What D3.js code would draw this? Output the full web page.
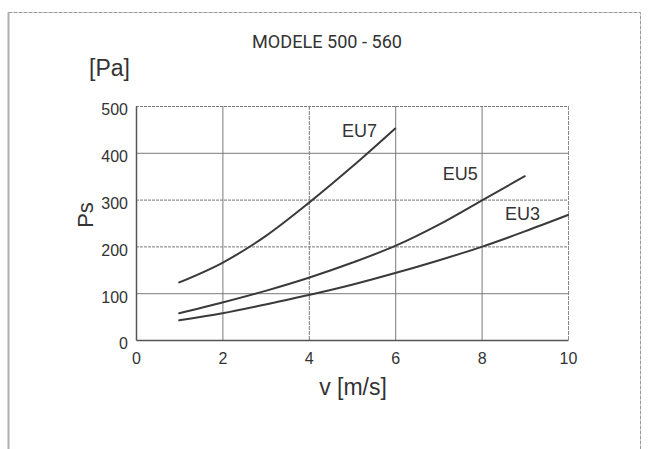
<!DOCTYPE html>
<html>
<head>
<meta charset="utf-8">
<script src="https://cdn.jsdelivr.net/npm/d3@7"></script>
<style>
  body { margin: 0; background: #fff; }
  text { font-family: "Liberation Sans", Arial, sans-serif; fill: #333; }
</style>
</head>
<body>
<svg id="chart" width="650" height="449"></svg>
<script>
// Static pressure Ps [Pa] against air velocity v [m/s] for three filter classes
const seriesNames = ["EU7", "EU5", "EU3"];
const eu7Speed = [1, 2, 3, 4, 5, 6];
const eu7Pressure = [123, 165, 222, 293, 370, 452];
const eu5Speed = [1, 2, 3, 4, 5, 6, 7, 8, 9];
const eu5Pressure = [57, 80, 105, 133, 165, 201, 246, 298, 350];
const eu3Speed = [1, 2, 3, 4, 5, 6, 7, 8, 9, 10];
const eu3Pressure = [42, 57, 76, 96, 118, 143, 170, 199, 232, 267];
const xTickValues = [0, 2, 4, 6, 8, 10];
const yTickValues = [0, 100, 200, 300, 400, 500];
const titleText = "MODELE 500 - 560";

const svg = d3.select("#chart");

// page frame
svg.append("rect")
  .attr("x", 8.5).attr("y", 12.5)
  .attr("width", 632).attr("height", 450)
  .attr("fill", "none").attr("stroke", "#9a9a9a").attr("stroke-width", 1)
  .attr("stroke-dasharray", "4,1");
svg.append("line")
  .attr("x1", 8.5).attr("x2", 8.5).attr("y1", 12.5).attr("y2", 449)
  .attr("stroke", "#b0b0b0").attr("stroke-width", 2);

const x = d3.scaleLinear().domain([0, 10]).range([136, 568]);
const y = d3.scaleLinear().domain([0, 500]).range([340, 106]);

// grid
const grid = svg.append("g");
grid.selectAll("line.v")
  .data(xTickValues.filter(d => d > 0))
  .join("line")
  .attr("x1", d => x(d) + 0.5).attr("x2", d => x(d) + 0.5)
  .attr("y1", y(500)).attr("y2", y(0))
  .attr("stroke", d => d === 10 ? "#8a8a8a" : "#7a7a7a")
  .attr("stroke-width", 1)
  .attr("stroke-dasharray", d => (d === 4 || d === 10) ? "4,1" : null);
grid.selectAll("line.h")
  .data(yTickValues.filter(d => d > 0))
  .join("line")
  .attr("x1", x(0)).attr("x2", x(10))
  .attr("y1", d => y(d) + 0.5).attr("y2", d => y(d) + 0.5)
  .attr("stroke", "#7a7a7a")
  .attr("stroke-width", 1)
  .attr("stroke-dasharray", d => (d === 200 || d === 300 || d === 500) ? "3,1" : null);

// axes
const xAxis = svg.append("g")
  .attr("transform", `translate(0,${y(0)})`)
  .call(d3.axisBottom(x).tickValues(xTickValues).tickSize(0).tickPadding(13));
xAxis.select(".domain").attr("stroke", "#555").attr("stroke-width", 1.5);
xAxis.selectAll("text")
  .style("font-family", "Liberation Sans, Arial, sans-serif")
  .style("font-size", "16px").attr("fill", "#444");

const yAxis = svg.append("g")
  .attr("transform", `translate(${x(0)},0)`)
  .call(d3.axisLeft(y).tickValues(yTickValues).tickSize(0).tickPadding(8));
yAxis.select(".domain").attr("stroke", "#555").attr("stroke-width", 1.5);
yAxis.selectAll("text")
  .style("font-family", "Liberation Sans, Arial, sans-serif")
  .style("font-size", "16px").attr("fill", "#444")
  .attr("dy", "0.55em");

// curves
const series = [
  { name: seriesNames[0], v: eu7Speed, p: eu7Pressure, label: [4.77, 434] },
  { name: seriesNames[1], v: eu5Speed, p: eu5Pressure, label: [7.1, 342] },
  { name: seriesNames[2], v: eu3Speed, p: eu3Pressure, label: [8.54, 256] }
];
const line = d3.line()
  .x(d => x(d[0]))
  .y(d => y(d[1]))
  .curve(d3.curveMonotoneX);

svg.append("g").selectAll("path")
  .data(series)
  .join("path")
  .attr("d", s => line(s.v.map((v, i) => [v, s.p[i]])))
  .attr("fill", "none")
  .attr("stroke", "#3a3a3a")
  .attr("stroke-width", 2)
  .attr("stroke-linecap", "round");

svg.append("g").selectAll("text")
  .data(series)
  .join("text")
  .attr("x", s => x(s.label[0]))
  .attr("y", s => y(s.label[1]))
  .style("font-size", "18px")
  .attr("fill", "#333")
  .text(s => s.name);

// titles
svg.append("text")
  .attr("x", 252).attr("y", 48)
  .attr("textLength", 150).attr("lengthAdjust", "spacingAndGlyphs")
  .style("font-family", "Roboto, sans-serif")
  .style("font-size", "19px")
  .attr("fill", "#3a3a3a")
  .text(titleText);

svg.append("text")
  .attr("x", 89).attr("y", 76)
  .style("font-size", "23px")
  .text("[Pa]");

svg.append("text")
  .attr("transform", "translate(93,215) rotate(-90)")
  .attr("text-anchor", "middle")
  .style("font-size", "22px")
  .text("Ps");

svg.append("text")
  .attr("x", 353).attr("y", 395)
  .attr("text-anchor", "middle")
  .style("font-size", "23px")
  .text("v [m/s]");
</script>
</body>
</html>
